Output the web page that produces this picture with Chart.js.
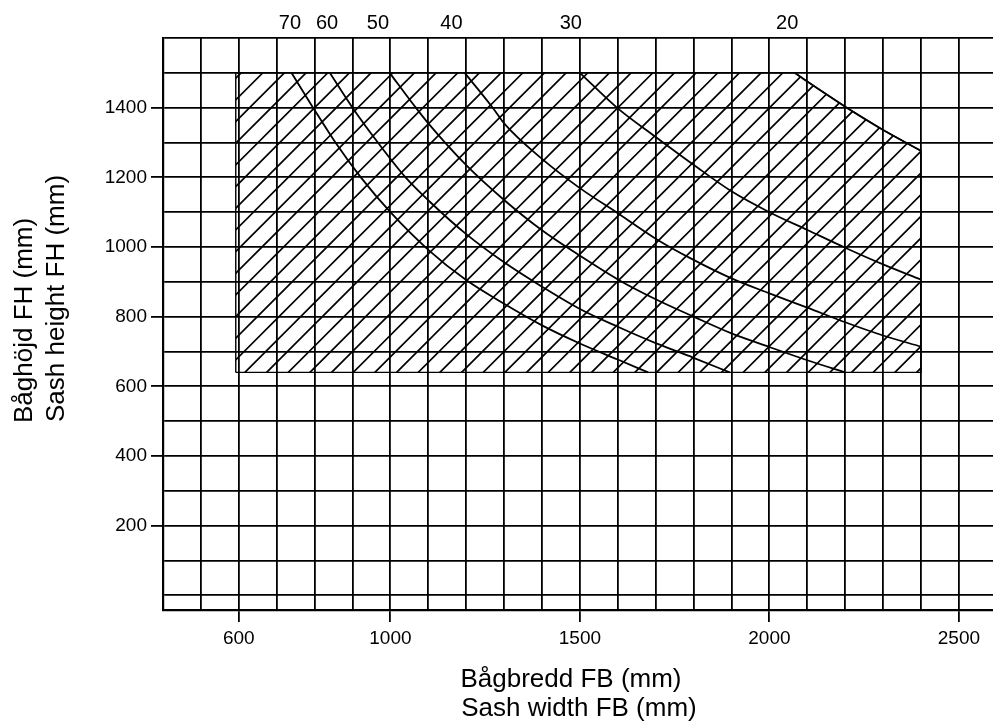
<!DOCTYPE html>
<html><head><meta charset="utf-8">
<script src="https://cdn.jsdelivr.net/npm/chart.js@4.4.1/dist/chart.umd.min.js"></script>
<style>html,body{margin:0;padding:0;background:#fff;}canvas{display:block;}</style>
</head><body>
<canvas id="c" width="993" height="724"></canvas>
<script>
// ---- data (mm) ----
const xTickLabels = [600, 1000, 1500, 2000, 2500];
const yTickLabels = [200, 400, 600, 800, 1000, 1200, 1400];
const curveLabels = ['70', '60', '50', '40', '30', '20'];
const curveLabelPos = [735, 833, 967, 1161, 1476, 2047];
const xTitle = ['Bågbredd FB (mm)', 'Sash width FB (mm)'];
const yTitle = ['Båghöjd FH (mm)', 'Sash height FH (mm)'];

const w70 = [739, 796, 855, 922, 1000, 1100, 1200, 1300, 1400, 1500, 1600, 1680];
const h70 = [1500, 1400, 1300, 1200, 1100, 992, 905, 837, 775, 723, 677, 640];
const w60 = [840, 900, 967, 1040, 1104, 1200, 1300, 1400, 1500, 1600, 1700, 1800, 1895];
const h60 = [1500, 1400, 1300, 1200, 1130, 1037, 956, 886, 822, 771, 724, 682, 640];
const w50 = [998, 1067, 1100, 1200, 1300, 1400, 1500, 1600, 1700, 1800, 1900, 2000, 2100, 2200];
const h50 = [1500, 1400, 1355, 1235, 1135, 1048, 975, 907, 850, 800, 752, 713, 675, 640];
const w40 = [1196, 1270, 1300, 1400, 1500, 1600, 1700, 1800, 1900, 2000, 2100, 2200, 2300, 2400];
const h40 = [1500, 1400, 1355, 1253, 1169, 1097, 1024, 963, 910, 867, 826, 784, 746, 714];
const w30 = [1500, 1600, 1700, 1800, 1900, 2000, 2100, 2200, 2300, 2400];
const h30 = [1500, 1398, 1316, 1236, 1160, 1100, 1049, 998, 950, 906];
const w20 = [2067, 2100, 2204, 2300, 2400];
const h20 = [1500, 1475, 1400, 1336, 1276];

const zoneLeft = 592, zoneRight = 2400, zoneTop = 1500, zoneBottom = 640;
const zoneW = [zoneLeft, zoneLeft, ...w20, zoneRight, zoneLeft];
const zoneH = [zoneBottom, zoneTop, ...h20, zoneBottom, zoneBottom];

const xMin = 400, xMax = 2590, xStep = 100;
const yMin = -42, yMax = 1600, yStep = 100;

// ---- rendering ----
const FONT = '"Liberation Sans", Arial, Helvetica, sans-serif';
Chart.defaults.font.family = FONT;
Chart.defaults.color = '#000';
const LINE = '#000';

const canvas = document.getElementById('c');
const mainCtx = canvas.getContext('2d');
function makeHatch() {
  // tile holding three 45-degree hatch lines (period 65/3 px), phase baked in
  const s = 65, gap = s / 3, phase = 10.6;
  const c = document.createElement('canvas');
  c.width = s; c.height = s;
  const g = c.getContext('2d');
  g.strokeStyle = LINE; g.lineWidth = 1.7;
  g.beginPath();
  for (let k = -1; k <= 7; k++) {
    const cst = phase + k * gap; // x + y = cst
    g.moveTo(cst + 5, -5); g.lineTo(-5, cst + 5);
  }
  g.stroke();
  return mainCtx.createPattern(c, 'repeat');
}

const pts = (w, h) => w.map((v, i) => ({x: v, y: h[i]}));
const curves = [[w70, h70], [w60, h60], [w50, h50], [w40, h40], [w30, h30], [w20, h20]];

function stepTicks(lo, hi, step) {
  const out = [];
  for (let v = Math.ceil(lo / step) * step; v <= hi; v += step) out.push({value: v});
  return out;
}

const axisTitles = {
  id: 'axisTitles',
  afterDraw(chart) {
    const ctx = chart.ctx;
    ctx.save();
    ctx.fillStyle = '#000';
    ctx.font = '26px ' + FONT;
    ctx.textAlign = 'center';
    ctx.textBaseline = 'alphabetic';
    ctx.fillText(xTitle[0], 571, 687);
    ctx.fillText(xTitle[1], 579, 716);
    ctx.textAlign = 'left';
    ctx.save(); ctx.translate(32, 423); ctx.rotate(-Math.PI / 2); ctx.fillText(yTitle[0], 0, 0); ctx.restore();
    ctx.save(); ctx.translate(63.5, 422); ctx.rotate(-Math.PI / 2); ctx.fillText(yTitle[1], 0, 0); ctx.restore();
    ctx.restore();
  }
};

const tickFont = {family: FONT, size: 19};

new Chart(canvas, {
  type: 'scatter',
  data: {
    datasets: [
      { data: pts(zoneW, zoneH), showLine: true, fill: 'shape', backgroundColor: makeHatch(),
        borderColor: LINE, borderWidth: 1.4, pointRadius: 0, tension: 0 },
      ...curves.map(([w, h]) => ({
        data: pts(w, h), showLine: true, fill: false, borderColor: LINE, borderWidth: 1.8,
        pointRadius: 0, cubicInterpolationMode: 'monotone'
      }))
    ]
  },
  options: {
    responsive: false,
    animation: false,
    layout: {padding: 0},
    plugins: {legend: {display: false}, tooltip: {enabled: false}},
    scales: {
      x: {
        type: 'linear', position: 'bottom', min: xMin, max: xMax,
        afterBuildTicks: s => { s.ticks = stepTicks(xMin, xMax, xStep); },
        ticks: { autoSkip: false, maxRotation: 0, padding: 5.5, font: tickFont, color: '#000',
          callback: v => xTickLabels.includes(Math.round(v)) ? String(Math.round(v)) : '' },
        grid: { color: LINE, lineWidth: 1.8, tickLength: 12, tickWidth: 1.8,
          tickColor: c => (c.tick && xTickLabels.includes(Math.round(c.tick.value))) ? LINE : 'rgba(0,0,0,0)' },
        border: { color: '#000', width: 2.2 },
        afterFit: s => { s.height = 114; }
      },
      x2: {
        type: 'linear', position: 'top', min: xMin, max: xMax,
        grid: { display: false, drawTicks: false },
        border: { display: false },
        afterBuildTicks: s => { s.ticks = curveLabelPos.map(v => ({value: v})); },
        ticks: { autoSkip: false, maxRotation: 0, padding: 3, font: {family: FONT, size: 20}, color: '#000',
          callback: (v, i) => curveLabels[i] },
        afterFit: s => { s.height = 38; }
      },
      y: {
        type: 'linear', position: 'left', min: yMin, max: yMax,
        afterBuildTicks: s => { s.ticks = stepTicks(yMin, yMax, yStep); },
        ticks: { autoSkip: false, padding: 4, font: tickFont, color: '#000',
          callback: v => yTickLabels.includes(Math.round(v)) ? String(Math.round(v)) : '' },
        grid: { color: LINE, lineWidth: 1.8, tickLength: 12, tickWidth: 1.8,
          tickColor: c => (c.tick && yTickLabels.includes(Math.round(c.tick.value))) ? LINE : 'rgba(0,0,0,0)' },
        border: { color: '#000', width: 2.2 },
        afterFit: s => { s.width = 163; }
      }
    }
  },
  plugins: [axisTitles]
});
</script>
</body></html>
